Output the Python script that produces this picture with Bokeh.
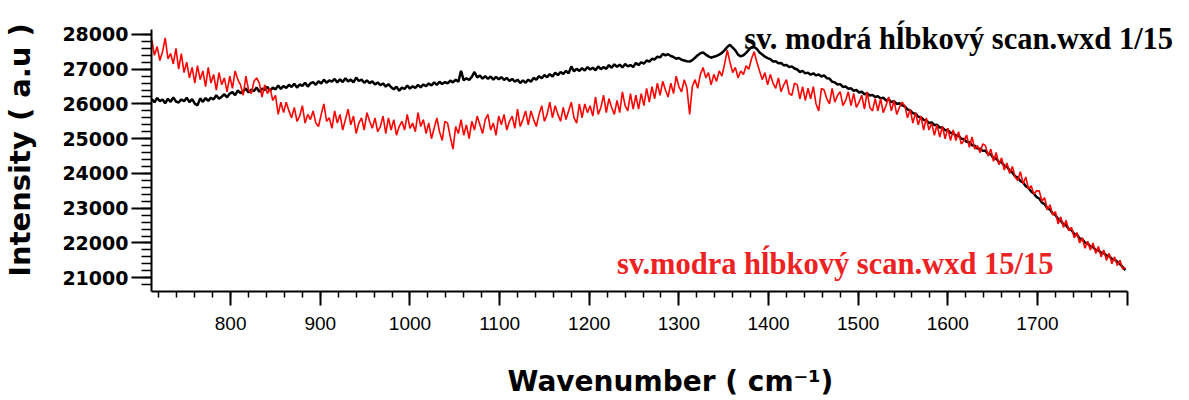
from bokeh.plotting import figure
from bokeh.models import Range1d, FixedTicker, Label
from bokeh.embed import file_html
from bokeh.resources import INLINE

# ---------------- data ----------------
wavenumber = list(range(712, 1799, 3))  # cm-1 sampling grid, 712 ... 1798 (363 points)

scan_1_of_15 = [
    26140, 26050, 26170, 26080, 26130, 26020, 26150, 26060, 26190, 26070,
    26040, 26130, 26080, 26180, 26050, 26140, 26010, 25960, 26160, 26060,
    26170, 26090, 26180, 26130, 26250, 26150, 26210, 26280, 26190, 26300,
    26340, 26250, 26390, 26310, 26360, 26450, 26330, 26410, 26370, 26470,
    26350, 26440, 26400, 26490, 26380, 26470, 26420, 26530, 26430, 26520,
    26460, 26550, 26490, 26580, 26470, 26560, 26520, 26610, 26500, 26590,
    26630, 26550, 26650, 26590, 26700, 26610, 26680, 26640, 26720, 26620,
    26710, 26630, 26740, 26650, 26700, 26620, 26760, 26660, 26700, 26610,
    26680, 26600, 26650, 26560, 26620, 26540, 26590, 26500, 26570, 26480,
    26420, 26500, 26380, 26470, 26430, 26530, 26440, 26510, 26460, 26550,
    26480, 26560, 26510, 26590, 26530, 26620, 26550, 26640, 26570, 26630,
    26590, 26670, 26620, 26700, 26640, 26950, 26680, 26740, 26690, 26780,
    26920, 26760, 26820, 26730, 26800, 26720, 26790, 26700, 26780, 26710,
    26770, 26690, 26750, 26660, 26720, 26640, 26700, 26600, 26680, 26610,
    26700, 26640, 26750, 26700, 26800, 26740, 26830, 26770, 26860, 26790,
    26900, 26830, 26920, 26860, 26950, 26880, 27080, 26940, 27010, 26950,
    27030, 26960, 27060, 26990, 27040, 26970, 27080, 27000, 27060, 27010,
    27120, 27040, 27140, 27070, 27130, 27050, 27150, 27080, 27120, 27060,
    27180, 27120, 27200, 27160, 27250, 27220, 27300, 27280, 27360, 27340,
    27440, 27400, 27430, 27380, 27350, 27300, 27320, 27270, 27250, 27230,
    27220, 27260, 27330, 27400, 27460, 27480, 27420, 27370, 27330, 27360,
    27380, 27420, 27470, 27550, 27640, 27700, 27620, 27540, 27420, 27370,
    27400, 27470, 27560, 27630, 27640, 27580, 27480, 27420, 27360, 27320,
    27290, 27220, 27230, 27170, 27180, 27110, 27120, 27060, 27080, 27020,
    26990, 26920, 26950, 26880, 26900, 26840, 26880, 26820, 26850, 26790,
    26820, 26740, 26730, 26640, 26620, 26560, 26570, 26490, 26500, 26440,
    26450, 26380, 26400, 26330, 26350, 26280, 26300, 26240, 26260, 26200,
    26220, 26160, 26180, 26100, 26130, 26050, 26080, 26000, 26020, 25960,
    25930, 25840, 25820, 25730, 25720, 25630, 25620, 25540, 25530, 25450,
    25470, 25390, 25400, 25320, 25320, 25240, 25250, 25170, 25160, 25090,
    25090, 25000, 24990, 24910, 24900, 24810, 24800, 24720, 24710, 24650,
    24650, 24560, 24550, 24440, 24430, 24330, 24320, 24220, 24200, 24080,
    24030, 23920, 23880, 23780, 23740, 23630, 23580, 23480, 23420, 23320,
    23280, 23160, 23120, 23000, 22960, 22850, 22810, 22690, 22640, 22540,
    22510, 22400, 22370, 22260, 22240, 22130, 22110, 22010, 21990, 21900,
    21880, 21800, 21790, 21720, 21710, 21640, 21620, 21540, 21530, 21460,
    21400, 21310, 21220,
]

scan_15_of_15 = [
    27850, 27400, 27650, 27250, 27500, 27900, 27300, 27450, 27150, 27600,
    27000, 27450, 26900, 27200, 26750, 27050, 26600, 27100, 26700, 26950,
    26500, 27050, 26600, 26850, 26400, 26900, 26550, 26750, 26350, 26800,
    26450, 26950, 26700, 26550, 26250, 26800, 26400, 26300, 26650, 26750,
    26600, 26200, 26550, 26300, 26450, 26100, 26250, 25700, 26050, 25750,
    26050, 25800, 25600, 25900, 25500, 25650, 25950, 25450, 25700, 25550,
    25800, 25450, 25350, 25700, 26000, 25500, 25600, 25300, 25800, 25450,
    25700, 25250, 25550, 25850, 25400, 25650, 25150, 25450, 25600, 25250,
    25750, 25500, 25300, 25600, 25200, 25350, 25650, 25150, 25600, 25250,
    25550, 25100, 25350, 25500, 25250, 25700, 25300, 25450, 25200, 25750,
    25350, 25550, 25150, 25450, 25000, 25300, 25600, 25200, 24950, 25500,
    25450, 25050, 24700, 25350, 25150, 25550, 25100, 25400, 25000, 25500,
    25250, 25650, 25400, 25150, 25550, 25700, 25250, 25450, 25100, 25650,
    25400, 25700, 25250, 25500, 25650, 25300, 25850, 25350, 25550, 25800,
    25400, 25800, 25550, 25350, 25700, 25950, 25500, 25700, 26050, 25600,
    25950, 25700, 25500, 25900, 25550, 25800, 26050, 25600, 25450, 26000,
    25600, 26000, 25750, 25950, 25650, 26200, 25700, 25900, 26250, 25750,
    26150, 25900, 25700, 26100, 25750, 26350, 25950, 25800, 26300, 25850,
    26250, 25850, 26300, 25950, 26450, 26050, 26500, 26150, 26600, 26250,
    26650, 26400, 26200, 26600, 26300, 26800, 26500, 26350, 26700, 26450,
    25700, 26500, 26700, 26450, 26850, 27050, 26750, 26900, 26550, 26850,
    26650, 26950, 26800, 27150, 27550, 27200, 26900, 27050, 26750, 26950,
    26850, 27100, 27000, 27300, 27500, 27200, 26950, 26700, 26900, 26550,
    26850, 26600, 26450, 26750, 26350, 26550, 26700, 26300, 26250, 26600,
    26550, 26150, 26500, 26100, 26450, 26150, 26500, 26000, 25800, 26450,
    26400, 26150, 26000, 26450, 26050, 26250, 26350, 25950, 26100, 26350,
    25950, 26300, 25900, 26050, 26250, 25850, 26350, 25900, 25800, 26150,
    25800, 26150, 25750, 25950, 26200, 25800, 26100, 25700, 25900, 26050,
    25950, 25600, 25850, 25450, 25750, 25400, 25650, 25250, 25600, 25250,
    25450, 25100, 25400, 25050, 25350, 25000, 25300, 24950, 25250, 24950,
    25200, 24850, 24950, 25100, 24750, 25050, 24700, 24800, 24600, 24850,
    24800, 24500, 24700, 24350, 24600, 24250, 24450, 24100, 24300, 24000,
    24200, 23900, 23800, 24050, 23700, 23900, 23550, 23650, 23400, 23500,
    23500, 23200, 23300, 22950, 23100, 22800, 22900, 22550, 22750, 22450,
    22650, 22350, 22450, 22150, 22300, 22000, 22150, 21850, 22050, 21800,
    22000, 21700, 21900, 21600, 21800, 21500, 21700, 21400, 21600, 21350,
    21500, 21250, 21300,
]

x_major_ticks = [800, 900, 1000, 1100, 1200, 1300, 1400, 1500, 1600, 1700, 1800]
x_tick_labels = {1800: ""}
x_minor_ticks = list(range(720, 1800, 20))
y_major_ticks = [21000, 22000, 23000, 24000, 25000, 26000, 27000, 28000]
y_minor_ticks = list(range(20800, 28001, 200))

series_names = ["sv. modrá hĺbkový scan.wxd 1/15", "sv.modra hĺbkový scan.wxd 15/15"]
x_title = "Wavenumber ( cm⁻¹)"
y_title = "Intensity ( a.u )"

# ---------------- figure ----------------
p = figure(width=1189, height=400, output_backend="svg", toolbar_location=None,
           x_range=Range1d(711.7, 1869.6), y_range=Range1d(20604, 28746),
           min_border_left=148, min_border_right=0, min_border_top=8,
           min_border_bottom=109)
p.outline_line_color = None
p.xgrid.visible = False
p.ygrid.visible = False
p.background_fill_color = "white"
p.border_fill_color = "white"

p.line(wavenumber, scan_1_of_15, line_color="#000000", line_width=2.5)
p.line(wavenumber, scan_15_of_15, line_color="#FF0000", line_width=1.6)

# x axis
xa = p.xaxis[0]
xa.bounds = (711.7, 1800)
xa.ticker = FixedTicker(ticks=x_major_ticks, minor_ticks=x_minor_ticks)
xa.major_label_overrides = x_tick_labels
xa.axis_line_width = 2
xa.axis_line_color = "black"
xa.major_tick_line_width = 2
xa.minor_tick_line_width = 1.5
xa.major_tick_in = 0
xa.major_tick_out = 14
xa.minor_tick_in = 0
xa.minor_tick_out = 6
xa.major_label_standoff = 11
xa.major_label_text_font = "Liberation Sans"
xa.major_label_text_font_size = "19px"
xa.major_label_text_color = "black"
xa.axis_label = x_title
xa.axis_label_text_font = "DejaVu Sans"
xa.axis_label_text_font_style = "bold"
xa.axis_label_text_font_size = "28px"
xa.axis_label_text_color = "black"
xa.axis_label_standoff = 32

# y axis
ya = p.yaxis[0]
ya.bounds = (20604, 28153)
ya.ticker = FixedTicker(ticks=y_major_ticks, minor_ticks=y_minor_ticks)
ya.axis_line_width = 2
ya.axis_line_color = "black"
ya.major_tick_line_width = 2
ya.minor_tick_line_width = 1.5
ya.major_tick_in = 0
ya.major_tick_out = 20
ya.minor_tick_in = 0
ya.minor_tick_out = 10
ya.major_label_standoff = 3
ya.major_label_text_font = "DejaVu Sans"
ya.major_label_text_font_style = "bold"
ya.major_label_text_font_size = "19px"
ya.major_label_text_color = "black"
ya.axis_label = y_title
ya.axis_label_text_font = "DejaVu Sans"
ya.axis_label_text_font_style = "bold"
ya.axis_label_text_font_size = "29px"
ya.axis_label_text_color = "black"
ya.axis_label_standoff = 22

# series name labels
p.add_layout(Label(x=1373, y=27866, text=series_names[0], text_align="left",
                   text_baseline="alphabetic", text_font="Liberation Serif",
                   text_font_style="bold", text_font_size="30.5px",
                   text_color="#000000"))
p.add_layout(Label(x=1231, y=21393, text=series_names[1], text_align="left",
                   text_baseline="alphabetic", text_font="Liberation Serif",
                   text_font_style="bold", text_font_size="30.5px",
                   text_color="#EE2222"))

open("out.html", "w").write(file_html(p, INLINE))
